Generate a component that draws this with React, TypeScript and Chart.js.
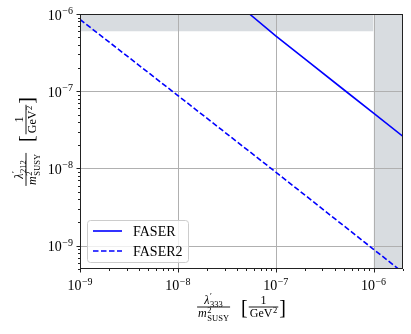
import React, { useEffect, useRef } from "react";
import { Chart, registerables } from "chart.js";
Chart.register(...registerables);

// ---- data ----
const seriesNames = ["FASER", "FASER2"];
const faserX = [5.4e-8, 1e-7, 2e-7, 5.2e-7, 1e-6, 2e-6];
const faserY = [1e-6, 5.2e-7, 2.6e-7, 1e-7, 5.2e-8, 2.6e-8];
const faser2X = [1e-9, 1e-8, 1e-7, 1e-6, 2e-6];
const faser2Y = [8.5e-7, 8.8e-8, 9e-9, 9e-10, 4.5e-10];
const topBandX = [1e-9, 1e-6];
const topBandY = [6e-7, 6e-7];
const rightBandX = [1e-6, 2e-6];
const rightBandY = [1e-6, 1e-6];
const xRange = [1e-9, 2e-6];
const yRange = [5e-10, 1e-6];
const majorExps = [-9, -8, -7, -6];
const xNumSub = "333";
const yNumSub = "212";

const FONT = '"Liberation Serif", "Times New Roman", serif';
const fnt = (size: number, italic = false) => `${italic ? "italic " : ""}${size}px ${FONT}`;
const BLUE = "#0000ff";
const SHADE = "rgb(216,220,224)";

const zip = (xs: number[], ys: number[]) => xs.map((x, i) => ({ x, y: ys[i] }));

type Atom = { base: string; it: boolean; sup?: string; sub?: string };
const BIG = 12;
const SMALL = 8.5;

function measureAtom(ctx: CanvasRenderingContext2D, a: Atom) {
  ctx.font = fnt(BIG, a.it);
  const bw = ctx.measureText(a.base).width;
  ctx.font = fnt(SMALL);
  const sw = Math.max(a.sup ? ctx.measureText(a.sup).width : 0, a.sub ? ctx.measureText(a.sub).width : 0);
  return { bw, w: bw + (sw ? sw + 0.6 : 0) };
}
function drawAtom(ctx: CanvasRenderingContext2D, a: Atom, x: number, y: number) {
  const m = measureAtom(ctx, a);
  ctx.font = fnt(BIG, a.it);
  ctx.fillText(a.base, x, y);
  ctx.font = fnt(SMALL);
  if (a.sup) ctx.fillText(a.sup, x + m.bw + 0.6, y - 4.5);
  if (a.sub) ctx.fillText(a.sub, x + m.bw + 0.6, y + 3.5);
}

function drawMathLabel(ctx: CanvasRenderingContext2D, numSub: string) {
  ctx.fillStyle = "#000";
  ctx.textAlign = "left";
  ctx.textBaseline = "alphabetic";
  const num: Atom = { base: "λ", it: true, sup: "′", sub: numSub };
  const den: Atom = { base: "m", it: true, sup: "2", sub: "SUSY" };
  const wn = measureAtom(ctx, num).w;
  const wd = measureAtom(ctx, den).w;
  const w1 = Math.max(wn, wd) + 2;
  const one: Atom = { base: "1", it: false };
  const gev: Atom = { base: "GeV", it: false, sup: "2" };
  const w1n = measureAtom(ctx, one).w;
  const w1d = measureAtom(ctx, gev).w;
  const w2 = Math.max(w1n, w1d) + 2;
  ctx.font = fnt(20);
  const wb = ctx.measureText("[").width;
  const gap = 11;
  const W = w1 + gap + wb + 1 + w2 + 1 + wb;
  let x = -W / 2;
  ctx.fillRect(x, -0.45, w1, 0.9);
  drawAtom(ctx, num, x + (w1 - wn) / 2, -3.5);
  drawAtom(ctx, den, x + (w1 - wd) / 2, 10);
  x += w1 + gap;
  ctx.font = fnt(20);
  ctx.fillText("[", x, 7);
  x += wb + 1;
  ctx.fillRect(x, -0.45, w2, 0.9);
  drawAtom(ctx, one, x + (w2 - w1n) / 2, -3.5);
  drawAtom(ctx, gev, x + (w2 - w1d) / 2, 10);
  x += w2 + 1;
  ctx.font = fnt(20);
  ctx.fillText("]", x, 7);
}

function drawPow(ctx: CanvasRenderingContext2D, e: number, x: number, y: number, align: "center" | "right") {
  ctx.textAlign = "left";
  ctx.textBaseline = "alphabetic";
  ctx.fillStyle = "#000";
  const sup = "−" + String(Math.abs(e));
  ctx.font = fnt(14);
  const w10 = ctx.measureText("10").width;
  ctx.font = fnt(10);
  const ws = ctx.measureText(sup).width;
  const tot = w10 + ws + 0.5;
  const x0 = align === "center" ? x - tot / 2 : x - tot;
  ctx.font = fnt(14);
  ctx.fillText("10", x0, y);
  ctx.font = fnt(10);
  ctx.fillText(sup, x0 + w10 + 0.5, y - 5.5);
}

const decoPlugin = {
  id: "deco",
  beforeDatasetDraw(chart: any, args: any) {
    if (args.index !== 1) return;
    const { ctx, chartArea: a, scales } = chart;
    ctx.save();
    ctx.strokeStyle = "#b0b0b0";
    ctx.lineWidth = 1;
    for (const e of majorExps) {
      const v = Math.pow(10, e);
      const px = scales.x.getPixelForValue(v);
      if (px > a.left + 1 && px < a.right - 1) {
        ctx.beginPath();
        ctx.moveTo(Math.round(px) + 0.5, a.top);
        ctx.lineTo(Math.round(px) + 0.5, a.bottom);
        ctx.stroke();
      }
      const py = scales.y.getPixelForValue(v);
      if (py > a.top + 1 && py < a.bottom - 1) {
        ctx.beginPath();
        ctx.moveTo(a.left, Math.round(py) + 0.5);
        ctx.lineTo(a.right, Math.round(py) + 0.5);
        ctx.stroke();
      }
    }
    ctx.restore();
  },
  afterDraw(chart: any) {
    const { ctx, chartArea: a, scales } = chart;
    ctx.save();
    ctx.strokeStyle = "#222";
    ctx.lineWidth = 1;
    ctx.strokeRect(a.left + 0.5, a.top + 0.5, a.right - a.left - 1, a.bottom - a.top - 1);
    ctx.beginPath();
    for (let e = -10; e <= -6; e++) {
      for (let k = 1; k <= 9; k++) {
        const v = k * Math.pow(10, e);
        const len = k === 1 ? 3.5 : 2;
        if (v >= xRange[0] * 0.9999 && v <= xRange[1] * 1.0001) {
          const px = Math.round(scales.x.getPixelForValue(v)) + 0.5;
          ctx.moveTo(px, a.bottom);
          ctx.lineTo(px, a.bottom + len);
        }
        if (v >= yRange[0] * 0.9999 && v <= yRange[1] * 1.0001) {
          const py = Math.round(scales.y.getPixelForValue(v)) + 0.5;
          ctx.moveTo(a.left, py);
          ctx.lineTo(a.left - len, py);
        }
      }
    }
    ctx.stroke();
    for (const e of majorExps) {
      const v = Math.pow(10, e);
      drawPow(ctx, e, scales.x.getPixelForValue(v), a.bottom + 21, "center");
      drawPow(ctx, e, a.left - 7, scales.y.getPixelForValue(v) + 5.5, "right");
    }
    ctx.save();
    ctx.translate((a.left + a.right) / 2, a.bottom + 38);
    drawMathLabel(ctx, xNumSub);
    ctx.restore();
    ctx.save();
    ctx.translate(26, (a.top + a.bottom) / 2);
    ctx.rotate(-Math.PI / 2);
    drawMathLabel(ctx, yNumSub);
    ctx.restore();
    const lx = a.left + 7, ly = a.bottom - 49, lw = 101, lh = 42;
    ctx.beginPath();
    (ctx as any).roundRect(lx + 0.5, ly + 0.5, lw, lh, 3);
    ctx.fillStyle = "rgba(255,255,255,0.8)";
    ctx.fill();
    ctx.strokeStyle = "#cccccc";
    ctx.lineWidth = 1;
    ctx.stroke();
    const rows = [ly + 11, ly + 31];
    seriesNames.forEach((name, i) => {
      const y = rows[i];
      ctx.beginPath();
      ctx.strokeStyle = BLUE;
      ctx.lineWidth = 1.6;
      ctx.setLineDash(i === 0 ? [] : [5.5, 2.5]);
      ctx.moveTo(lx + 6, y);
      ctx.lineTo(lx + 35, y);
      ctx.stroke();
      ctx.setLineDash([]);
      ctx.fillStyle = "#000";
      ctx.font = fnt(14);
      ctx.textAlign = "left";
      ctx.textBaseline = "alphabetic";
      ctx.fillText(name, lx + 46, y + 5);
    });
    ctx.restore();
  },
};

export default function App() {
  const ref = useRef<HTMLCanvasElement | null>(null);
  useEffect(() => {
    document.body.style.margin = "0";
    if (!ref.current) return;
    const chart = new Chart(ref.current, {
      type: "line",
      data: {
        datasets: [
          {
            label: seriesNames[0],
            data: zip(faserX, faserY),
            borderColor: BLUE,
            borderWidth: 1.6,
            pointRadius: 0,
            fill: false,
            tension: 0,
          },
          {
            label: seriesNames[1],
            data: zip(faser2X, faser2Y),
            borderColor: BLUE,
            borderWidth: 1.6,
            borderDash: [5.5, 2.5],
            pointRadius: 0,
            fill: false,
            tension: 0,
          },
          {
            label: "top",
            data: zip(topBandX, topBandY),
            borderWidth: 0,
            borderColor: "rgba(0,0,0,0)",
            backgroundColor: SHADE,
            pointRadius: 0,
            fill: "end",
          },
          {
            label: "right",
            data: zip(rightBandX, rightBandY),
            borderWidth: 0,
            borderColor: "rgba(0,0,0,0)",
            backgroundColor: SHADE,
            pointRadius: 0,
            fill: "start",
          },
        ],
      },
      options: {
        animation: false,
        responsive: false,
        devicePixelRatio: 1,
        layout: { padding: { left: 80, right: 8, top: 14, bottom: 65 } },
        plugins: { legend: { display: false }, tooltip: { enabled: false } },
        scales: {
          x: { type: "logarithmic", min: xRange[0], max: xRange[1], display: false },
          y: { type: "logarithmic", min: yRange[0], max: yRange[1], display: false },
        },
      },
      plugins: [decoPlugin],
    } as any);
    return () => chart.destroy();
  }, []);
  return (
    <div style={{ width: 411, height: 334 }}>
      <canvas ref={ref} width={411} height={334} style={{ display: "block" }} />
    </div>
  );
}
